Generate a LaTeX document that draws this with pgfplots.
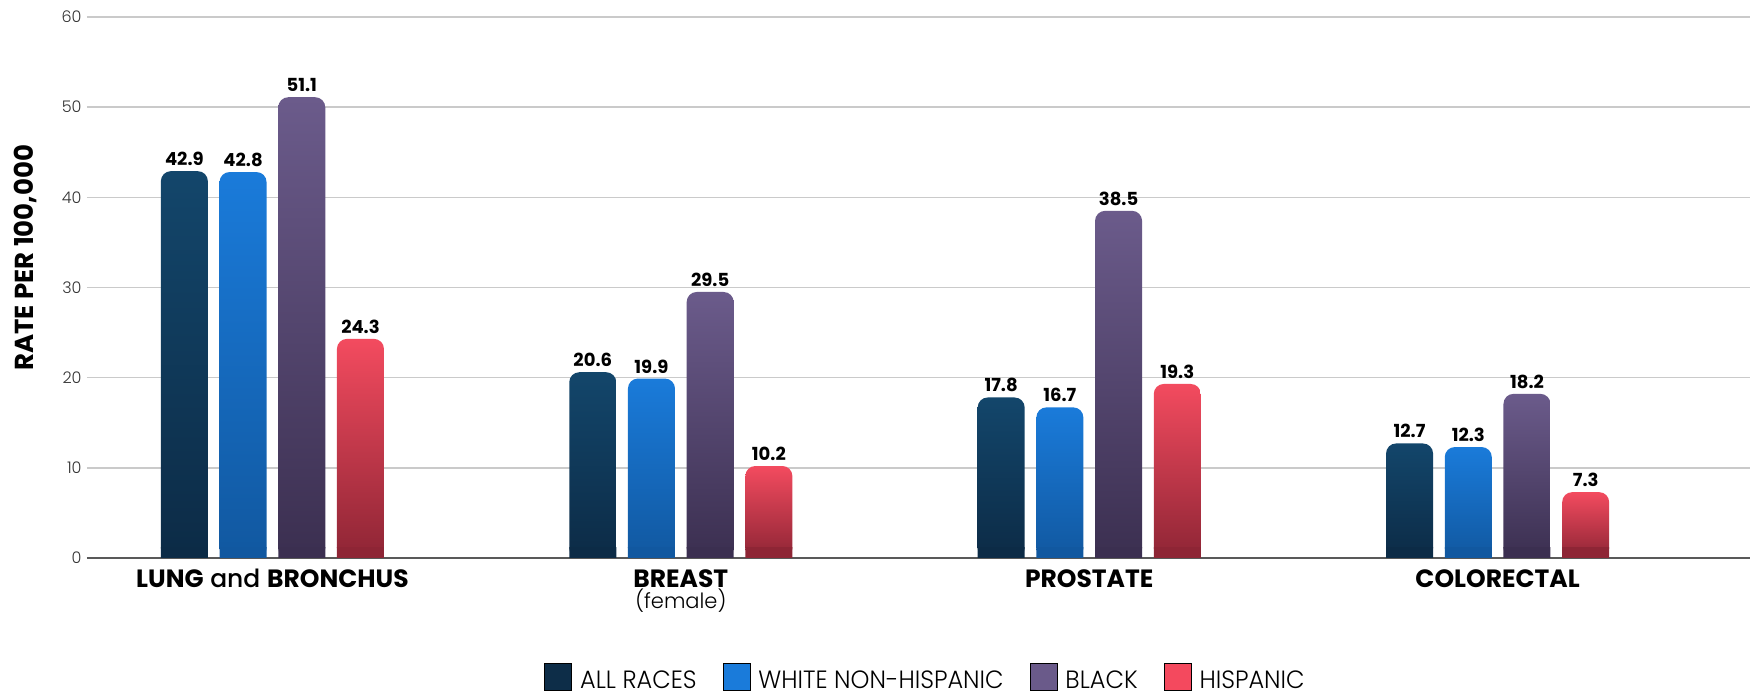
\documentclass[border=0pt]{standalone}
\usepackage{pgfplots}
\pgfplotsset{compat=1.18}
\usepackage{fontspec}
\setmainfont{Poppins}
\newfontfamily\lightfont{Poppins Light}
\newfontfamily\legfont[FakeStretch=0.96]{Poppins Light}
\newfontfamily\medfont{Poppins Medium}

\definecolor{allT}{HTML}{13466B}
\definecolor{allB}{HTML}{0C2B46}
\definecolor{allL}{HTML}{0D2D48}
\definecolor{whiteT}{HTML}{1A7BDA}
\definecolor{whiteB}{HTML}{1158A0}
\definecolor{whiteL}{HTML}{1A7BDA}
\definecolor{blackT}{HTML}{6B5B8B}
\definecolor{blackB}{HTML}{3B2F50}
\definecolor{blackL}{HTML}{6A5A8A}
\definecolor{hispT}{HTML}{F34B5F}
\definecolor{hispB}{HTML}{8E2535}
\definecolor{hispL}{HTML}{F4495E}
\definecolor{gridc}{HTML}{CACACA}

\pgfplotsset{
  barbase/.style={ybar, bar width=23.5pt, draw=none, forget plot, rounded corners=5pt,
    nodes near coords,
    every node near coord/.append style={anchor=south, inner sep=0pt, yshift=2.5pt,
      font=\bfseries\fontsize{9}{10}\selectfont, text=black}},
  sh/.style={bar shift=#1, every node near coord/.append style={xshift=#1}},
  footbase/.style={ybar, bar width=23.5pt, draw=none, forget plot, sharp corners},
  allbar/.style={barbase, top color=allT, bottom color=allB},
  whitebar/.style={barbase, top color=whiteT, bottom color=whiteB},
  blackbar/.style={barbase, top color=blackT, bottom color=blackB},
  hispbar/.style={barbase, top color=hispT, bottom color=hispB},
}

\begin{document}
\begin{tikzpicture}
\begin{axis}[
  name=ax,
  scale only axis,
  width=831.5pt, height=270.5pt,
  xmin=-0.454, xmax=3.618,
  ymin=0, ymax=60,
  ytick={0,10,...,60},
  xtick={0,1,2,3},
  xticklabels={{\textbf{LUNG} {\medfont and} \textbf{BRONCHUS}},
               {\textbf{BREAST}\\{\lightfont\fontsize{10.5}{11}\selectfont (female)}},
               {\textbf{PROSTATE}},
               {\textbf{COLORECTAL}}},
  xticklabel style={align=center, anchor=north, inner sep=0pt, yshift=-5.5pt,
    font=\fontsize{12.5}{9.5}\selectfont, text=black},
  yticklabel style={anchor=east, inner sep=0pt, xshift=-2.5pt,
    font=\lightfont\fontsize{8}{9}\selectfont, text=black!80},
  /pgf/number format/assume math mode=true,
  /pgf/number format/fixed,
  /pgf/number format/precision=1,
  ymajorgrids,
  major grid style={draw=gridc, line width=0.75pt},
  axis x line=bottom,
  axis y line=left,
  y axis line style={draw=none},
  x axis line style={draw=black!65, line width=1pt, -},
  major tick length=0pt,
  tick style={draw=none},
  ylabel={\textbf{RATE PER 100,000}},
  every axis y label/.style={at={([xshift=-31pt]axis description cs:0,0.555)},
    rotate=90, anchor=center, font=\fontsize{13}{14}\selectfont},
  legend image code/.code={\fill[#1] (0pt,-5.5pt) rectangle (13.5pt,8pt);},
  legend style={at={([xshift=3pt,yshift=-52.5pt]axis description cs:0.5,0)}, anchor=north,
    draw=none, inner sep=0pt, outer sep=0pt,
    legend columns=4,
    font=\legfont\fontsize{12.5}{14}\selectfont,
    nodes={inner sep=0pt, text depth=0pt},
    /tikz/every odd column/.append style={column sep=4pt},
    /tikz/every even column/.append style={column sep=13pt}},
]
% ALL RACES
\addplot[allbar, sh=-44.025pt] coordinates {(0,42.9)};
\addplot[allbar, sh=-44.025pt] coordinates {(1,20.6)};
\addplot[allbar, sh=-44.025pt] coordinates {(2,17.8)};
\addplot[allbar, sh=-44.025pt] coordinates {(3,12.7)};
% WHITE NON-HISPANIC
\addplot[whitebar, sh=-14.675pt] coordinates {(0,42.8)};
\addplot[whitebar, sh=-14.675pt] coordinates {(1,19.9)};
\addplot[whitebar, sh=-14.675pt] coordinates {(2,16.7)};
\addplot[whitebar, sh=-14.675pt] coordinates {(3,12.3)};
% BLACK
\addplot[blackbar, sh=14.675pt] coordinates {(0,51.1)};
\addplot[blackbar, sh=14.675pt] coordinates {(1,29.5)};
\addplot[blackbar, sh=14.675pt] coordinates {(2,38.5)};
\addplot[blackbar, sh=14.675pt] coordinates {(3,18.2)};
% HISPANIC
\addplot[hispbar, sh=44.025pt] coordinates {(0,24.3)};
\addplot[hispbar, sh=44.025pt] coordinates {(1,10.2)};
\addplot[hispbar, sh=44.025pt] coordinates {(2,19.3)};
\addplot[hispbar, sh=44.025pt] coordinates {(3,7.3)};
% square feet of the bars (bottom corners are square)
\addplot[footbase, fill=allB, bar shift=-44.025pt] coordinates {(0,1.2) (1,1.2) (2,1.2) (3,1.2)};
\addplot[footbase, fill=whiteB, bar shift=-14.675pt] coordinates {(0,1.2) (1,1.2) (2,1.2) (3,1.2)};
\addplot[footbase, fill=blackB, bar shift=14.675pt] coordinates {(0,1.2) (1,1.2) (2,1.2) (3,1.2)};
\addplot[footbase, fill=hispB, bar shift=44.025pt] coordinates {(0,1.2) (1,1.2) (2,1.2) (3,1.2)};
\addlegendimage{fill=allL}
\addlegendentry{ALL RACES}
\addlegendimage{fill=whiteL}
\addlegendentry{WHITE NON-HISPANIC}
\addlegendimage{fill=blackL}
\addlegendentry{BLACK}
\addlegendimage{fill=hispL}
\addlegendentry{HISPANIC}
\end{axis}
\pgfresetboundingbox
\path ([xshift=-43.5pt,yshift=-66.5pt]ax.south west) rectangle ([yshift=8.5pt]ax.north east);
\end{tikzpicture}
\end{document}
